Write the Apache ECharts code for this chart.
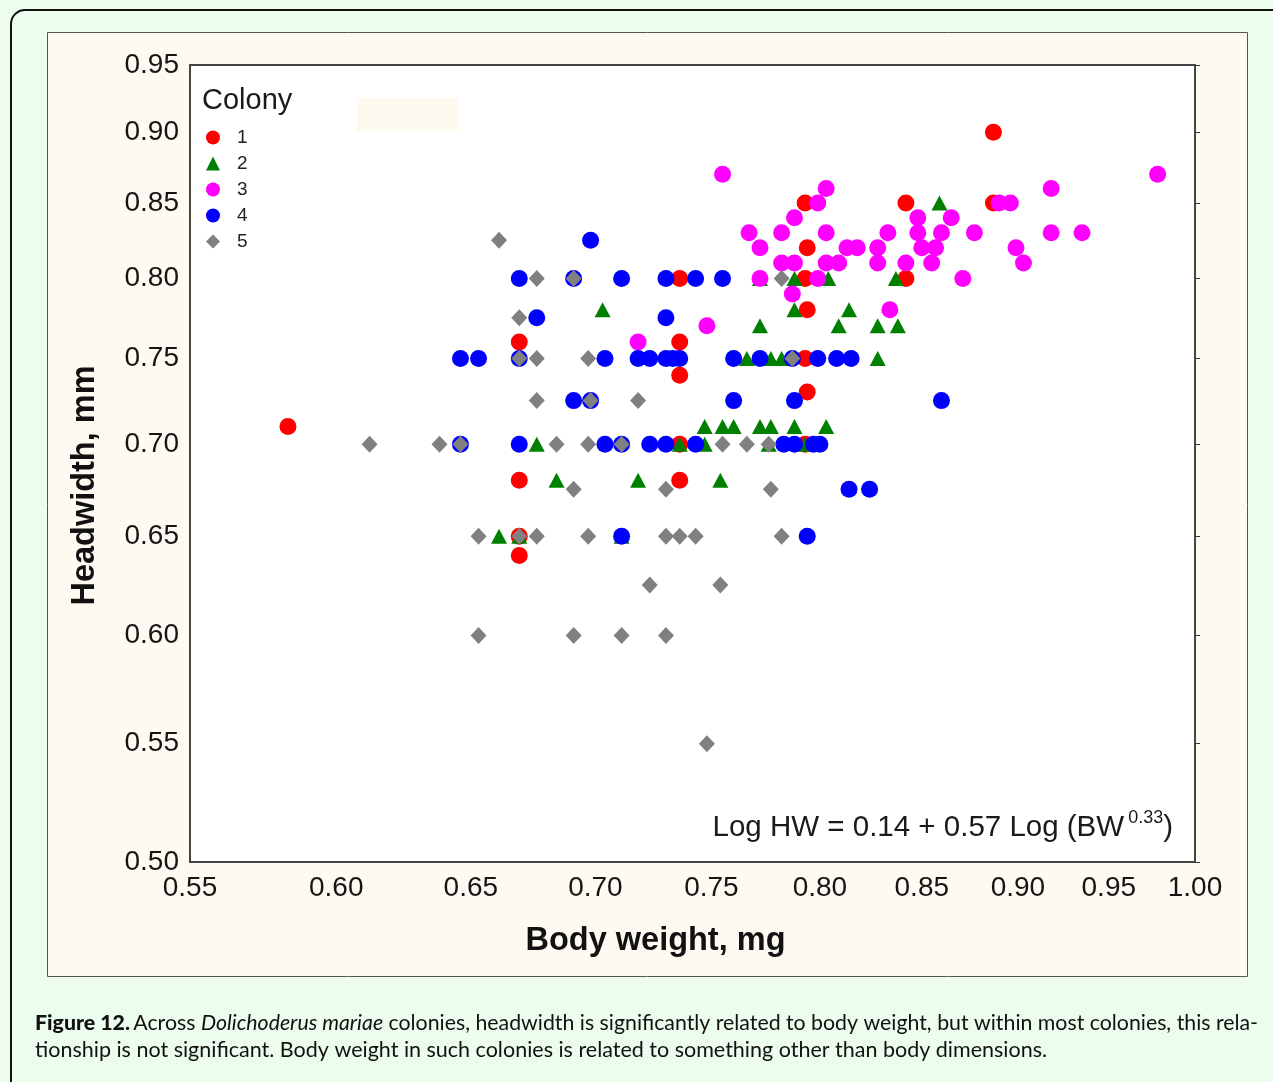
<!DOCTYPE html>
<html><head><meta charset="utf-8">
<script src="https://cdn.jsdelivr.net/npm/echarts@6/dist/echarts.min.js"></script>
<style>html,body{margin:0;padding:0;background:#ecfdee}#c{width:1273px;height:1082px}</style>
</head><body><div id="c"></div>
<script>
// Tick labels (axis values, log-scaled axes)
const xTickValues = [0.55, 0.60, 0.65, 0.70, 0.75, 0.80, 0.85, 0.90, 0.95, 1.00];
const yTickValues = [0.50, 0.55, 0.60, 0.65, 0.70, 0.75, 0.80, 0.85, 0.90, 0.95];
const colonyNames = ['1', '2', '3', '4', '5'];

// [body weight (mg), headwidth (mm)]
const colony1 = [[0.583,0.71],[0.669,0.76],[0.669,0.68],[0.669,0.65],[0.669,0.64],[0.736,0.80],[0.736,0.76],[0.736,0.74],[0.736,0.70],[0.736,0.68],[0.793,0.85],[0.794,0.82],[0.793,0.80],[0.794,0.78],[0.793,0.75],[0.794,0.73],[0.793,0.70],[0.842,0.85],[0.842,0.80],[0.887,0.90],[0.887,0.85]];
const colony2 = [[0.661,0.65],[0.669,0.65],[0.676,0.70],[0.684,0.68],[0.703,0.78],[0.711,0.65],[0.718,0.68],[0.736,0.70],[0.747,0.70],[0.747,0.71],[0.754,0.68],[0.755,0.71],[0.760,0.71],[0.766,0.75],[0.772,0.71],[0.772,0.77],[0.772,0.80],[0.777,0.71],[0.777,0.75],[0.776,0.70],[0.782,0.75],[0.788,0.71],[0.788,0.78],[0.788,0.80],[0.793,0.70],[0.803,0.71],[0.804,0.80],[0.809,0.77],[0.814,0.78],[0.828,0.77],[0.828,0.75],[0.837,0.80],[0.838,0.77],[0.859,0.85]];
const colony3 = [[0.718,0.76],[0.748,0.77],[0.755,0.87],[0.767,0.83],[0.772,0.82],[0.772,0.80],[0.782,0.83],[0.782,0.81],[0.787,0.79],[0.788,0.84],[0.788,0.81],[0.799,0.85],[0.799,0.80],[0.803,0.86],[0.803,0.83],[0.803,0.81],[0.809,0.81],[0.813,0.82],[0.818,0.82],[0.828,0.82],[0.828,0.81],[0.833,0.83],[0.834,0.78],[0.842,0.81],[0.848,0.84],[0.848,0.83],[0.850,0.82],[0.855,0.81],[0.857,0.82],[0.860,0.83],[0.865,0.84],[0.871,0.80],[0.877,0.83],[0.890,0.85],[0.896,0.85],[0.899,0.82],[0.903,0.81],[0.918,0.86],[0.918,0.83],[0.935,0.83],[0.978,0.87]];
const colony4 = [[0.646,0.75],[0.646,0.70],[0.653,0.75],[0.669,0.80],[0.669,0.75],[0.669,0.70],[0.676,0.775],[0.691,0.80],[0.691,0.725],[0.698,0.825],[0.698,0.725],[0.704,0.75],[0.704,0.70],[0.711,0.80],[0.711,0.70],[0.711,0.65],[0.718,0.75],[0.723,0.75],[0.723,0.70],[0.730,0.80],[0.730,0.775],[0.730,0.75],[0.730,0.70],[0.733,0.75],[0.736,0.75],[0.743,0.80],[0.743,0.70],[0.755,0.80],[0.760,0.75],[0.760,0.725],[0.772,0.75],[0.783,0.70],[0.787,0.75],[0.788,0.725],[0.788,0.70],[0.794,0.65],[0.797,0.70],[0.799,0.75],[0.800,0.70],[0.808,0.75],[0.814,0.675],[0.815,0.75],[0.824,0.675],[0.860,0.725]];
const colony5 = [[0.612,0.70],[0.638,0.70],[0.646,0.70],[0.653,0.65],[0.653,0.60],[0.661,0.825],[0.669,0.775],[0.669,0.75],[0.669,0.65],[0.676,0.80],[0.676,0.75],[0.676,0.725],[0.676,0.65],[0.684,0.70],[0.691,0.80],[0.691,0.675],[0.691,0.60],[0.697,0.75],[0.697,0.70],[0.697,0.65],[0.698,0.725],[0.711,0.70],[0.711,0.60],[0.718,0.725],[0.723,0.625],[0.730,0.675],[0.730,0.65],[0.730,0.60],[0.736,0.65],[0.743,0.65],[0.748,0.55],[0.754,0.625],[0.755,0.70],[0.766,0.70],[0.776,0.70],[0.777,0.675],[0.782,0.80],[0.782,0.65],[0.787,0.75]];

const colonies = [colony1, colony2, colony3, colony4, colony5];
const colors = ['#ff0000', '#008000', '#ff00ff', '#0000ff', '#808080'];
const symbols = ['circle', 'triangle', 'circle', 'circle', 'diamond'];
const sizes = [17, [16, 15], 17, 17, [16, 17]];

const lg = Math.log10;
const FONT = '"Liberation Sans", Arial, sans-serif';
const CAP = 'Lato, "Open Sans", sans-serif';
const xTickLog = xTickValues.map(lg);
const yTickLog = yTickValues.map(lg);
const fmt = v => Math.pow(10, v).toFixed(2);

const chart = echarts.init(document.getElementById('c'), null, {renderer: 'canvas'});

const series = colonies.map((d, i) => ({
  name: colonyNames[i],
  type: 'scatter',
  data: d.map(p => [lg(p[0]), lg(p[1])]),
  symbol: symbols[i],
  symbolSize: sizes[i],
  itemStyle: {color: colors[i], opacity: 1},
  emphasis: {disabled: true},
  z: 3
}));

const tickStyle = {show: true, inside: true, length: 5, lineStyle: {color: '#333', width: 1}};

chart.setOption({
  backgroundColor: '#ecfdee',
  animation: false,
  grid: {left: 190, top: 65, right: 78, bottom: 220, show: true, backgroundColor: '#ffffff', borderColor: '#444', borderWidth: 2, z: 1},
  xAxis: [{
    type: 'value', min: lg(0.55), max: 0, position: 'bottom',
    axisLine: {show: false}, splitLine: {show: false},
    axisTick: Object.assign({customValues: xTickLog}, tickStyle),
    axisLabel: {customValues: xTickLog, formatter: fmt, fontFamily: FONT, fontSize: 28, color: '#151515', margin: 12},
    name: 'Body weight, mg', nameLocation: 'middle', nameGap: 63,
    nameTextStyle: {fontFamily: FONT, fontSize: 32.5, fontWeight: 'bold', color: '#111', padding: [0, 74, 0, 0]}
  }, {
    type: 'value', min: lg(0.55), max: 0, position: 'top',
    axisLine: {show: false}, splitLine: {show: false},
    axisTick: Object.assign({customValues: xTickLog}, tickStyle),
    axisLabel: {show: false}
  }],
  yAxis: [{
    type: 'value', min: lg(0.5), max: lg(0.95), position: 'left',
    axisLine: {show: false}, splitLine: {show: false},
    axisTick: Object.assign({customValues: yTickLog}, tickStyle),
    axisLabel: {customValues: yTickLog, formatter: fmt, fontFamily: FONT, fontSize: 28, color: '#151515', margin: 11},
    name: 'Headwidth, mm', nameLocation: 'middle', nameGap: 88, nameRotate: 90,
    nameTextStyle: {fontFamily: FONT, fontSize: 32.5, fontWeight: 'bold', color: '#111', padding: [0, 44, 0, 0]}
  }, {
    type: 'value', min: lg(0.5), max: lg(0.95), position: 'right',
    axisLine: {show: false}, splitLine: {show: false},
    axisTick: Object.assign({customValues: yTickLog}, tickStyle),
    axisLabel: {show: false}
  }],
  legend: {
    data: colonyNames, orient: 'vertical', left: 201, top: 123,
    itemWidth: 14, itemHeight: 14, itemGap: 8,
    textStyle: {fontFamily: FONT, fontSize: 19, color: '#222', lineHeight: 18, padding: [0, 0, 0, 12]},
    itemGap: 7,
    selectedMode: false
  },
  graphic: [
    {type: 'rect', z: -10, shape: {x: 11, y: 10, width: 1320, height: 1120, r: 14}, style: {fill: '#ecfdee', stroke: '#111', lineWidth: 2}},
    {type: 'rect', z: -5, shape: {x: 47.5, y: 32.5, width: 1200, height: 944}, style: {fill: '#fefaf1', stroke: '#555', lineWidth: 1}},
    {type: 'rect', z: 2, shape: {x: 357, y: 98, width: 101, height: 33}, style: {fill: '#fdf9ef'}},
    {type: 'text', z: 5, style: {x: 202, y: 101, text: 'Colony', fontFamily: FONT, fontSize: 29, fill: '#1a1a1a', verticalAlign: 'middle'}},
    {type: 'text', z: 5, style: {
      x: 1173, y: 826, align: 'right', verticalAlign: 'middle',
      text: '{m|Log HW = 0.14 + 0.57 Log (BW}{s|0.33}{m|)}',
      rich: {
        m: {fontFamily: FONT, fontSize: 29.5, fill: '#1a1a1a', lineHeight: 34, verticalAlign: 'bottom'},
        s: {fontFamily: FONT, fontSize: 18, fill: '#1a1a1a', lineHeight: 34, verticalAlign: 'top', padding: [0, 0, 0, 4]}
      }
    }},
    {type: 'text', z: 5, style: {
      x: 35, y: 1023, verticalAlign: 'middle',
      text: '{b|Figure 12.} {n|Across }{i|Dolichoderus mariae}{n| colonies, headwidth is significantly related to body weight, but within most colonies, this rela-}',
      rich: {
        b: {fontFamily: CAP, fontSize: 21.3, fontWeight: 900, fill: '#111'},
        n: {fontFamily: CAP, fontSize: 21.3, fill: '#111'},
        i: {fontFamily: CAP, fontSize: 21.3, fontStyle: 'italic', fill: '#111'}
      }
    }},
    {type: 'text', z: 5, style: {
      x: 35, y: 1050, verticalAlign: 'middle',
      text: 'tionship is not significant. Body weight in such colonies is related to something other than body dimensions.',
      fontFamily: CAP, fontSize: 21.5, fill: '#111'
    }}
  ],
  series: series
});
</script>
</body></html>
